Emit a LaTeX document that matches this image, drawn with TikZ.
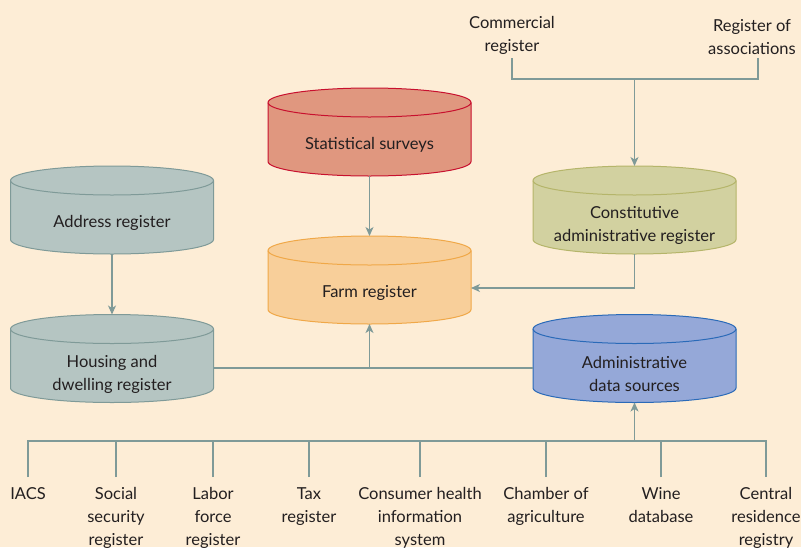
\documentclass[tikz,border=0pt]{standalone}
\usepackage{fontspec}
\setmainfont{Lato}
\usetikzlibrary{arrows.meta,calc}
\definecolor{bg}{HTML}{FDEDD6}
\definecolor{lc}{HTML}{7F9A98}
\definecolor{txt}{HTML}{231F20}
\definecolor{grayf}{HTML}{B5C5C2}
\definecolor{grayd}{HTML}{7F9A98}
\definecolor{redf}{HTML}{E0977F}
\definecolor{redd}{HTML}{C8102E}
\definecolor{farmf}{HTML}{F8CF9A}
\definecolor{farmd}{HTML}{F0A848}
\definecolor{olivef}{HTML}{D2D1A0}
\definecolor{olived}{HTML}{B5B56A}
\definecolor{bluef}{HTML}{95A8D8}
\definecolor{blued}{HTML}{2A6AB8}
\tikzset{
  cylline/.style={line width=1pt},
  cyltext/.style={font=\fontsize{16.5}{23}\selectfont, text=txt, align=center, inner sep=0pt},
  lbl/.style={font=\fontsize{16.5}{23}\selectfont, text=txt, align=center, inner sep=0pt, outer sep=6pt},
  conn/.style={draw=lc, line width=1.1pt},
  arr/.style={conn, -{Stealth[length=9pt,width=8pt,inset=2.5pt]}},
}
\newcommand\dbcyl[7]{%
  \node[inner sep=0pt, outer sep=0pt, minimum width=203pt, minimum height=88pt] (#1) at (#2,#3) {};
  \path[fill=#4, draw=#5, cylline] ([shift={(-101.5pt,29.5pt)}]#1.center) -- ([shift={(-101.5pt,-29.5pt)}]#1.center)
    arc[start angle=180,end angle=360,x radius=101.5pt,y radius=14.5pt]
    -- ([shift={(101.5pt,29.5pt)}]#1.center)
    arc[start angle=0,end angle=180,x radius=101.5pt,y radius=14.5pt] -- cycle;
  \draw[draw=#5, cylline] ([shift={(-101.5pt,29.5pt)}]#1.center)
    arc[start angle=180,end angle=360,x radius=101.5pt,y radius=14.5pt];
  \node[cyltext] (#1-t) at ([yshift=#7]#1.center) {#6};
}
\begin{document}
\begin{tikzpicture}[x=1pt,y=-1pt]
\fill[bg] (0,0) rectangle (801,547);
\useasboundingbox (0,0) rectangle (801,547);

\dbcyl{addr}{112}{210}{grayf}{grayd}{Address register}{-12.5pt}
\dbcyl{stat}{369.5}{132}{redf}{redd}{Statistical surveys}{-12.5pt}
\dbcyl{farm}{369.5}{280}{farmf}{farmd}{Farm register}{-12.5pt}
\dbcyl{const}{634.5}{210}{olivef}{olived}{Constitutive\\administrative register}{-15pt}
\dbcyl{hous}{112}{358.5}{grayf}{grayd}{Housing and\\dwelling register}{-15.5pt}
\dbcyl{admin}{634.5}{358.5}{bluef}{blued}{Administrative\\data sources}{-15.5pt}

% top labels
\node[lbl, anchor=south] (com) at (512,60.5) {Commercial\\register};
\node[lbl, anchor=south] (roa) at (752,60.5) {Register of\\associations};
\coordinate (tbus) at (0,79);
\coordinate (roaend) at (758,58);
\draw[conn] ([yshift=2.5pt]com.south) -- (com.south |- tbus) -- (roaend |- tbus) -- (roaend);
\draw[arr] (const.north |- tbus) -- (const.north);

% arrows
\draw[arr] (addr.south) -- (hous.north);
\draw[arr] (stat.south) -- (farm.north);
\draw[arr] (const.south) |- ([yshift=-8pt]farm.east);
\coordinate (hline) at ([yshift=-9.5pt]hous.east);
\draw[conn] (hline) -- (hline -| admin.west);
\draw[arr] (hline -| farm.south) -- (farm.south);

% bottom labels
\node[lbl, anchor=north] (iacs) at (28,477) {\strut IACS};
\node[lbl, anchor=north] (soc) at (116,477) {\strut Social\\security\\register};
\node[lbl, anchor=north] (lab) at (213,477) {\strut Labor\\force\\register};
\node[lbl, anchor=north] (tax) at (309,477) {\strut Tax\\register};
\node[lbl, anchor=north] (chi) at (420,477) {\strut Consumer health\\information\\system};
\node[lbl, anchor=north] (cha) at (546,477) {\strut Chamber of\\agriculture};
\node[lbl, anchor=north] (wine) at (661,477) {\strut Wine\\database};
\node[lbl, anchor=north] (crr) at (766,477) {\strut Central\\residence\\registry};
\coordinate (bbus) at (0,441);
\draw[conn] (iacs.north) -- (iacs.north |- bbus) -- (crr.north |- bbus) -- (crr.north);
\foreach \n in {soc,lab,tax,chi,cha,wine}{\draw[conn] (\n.north) -- (\n.north |- bbus);}
\draw[arr] (admin.south |- bbus) -- (admin.south);
\end{tikzpicture}
\end{document}
